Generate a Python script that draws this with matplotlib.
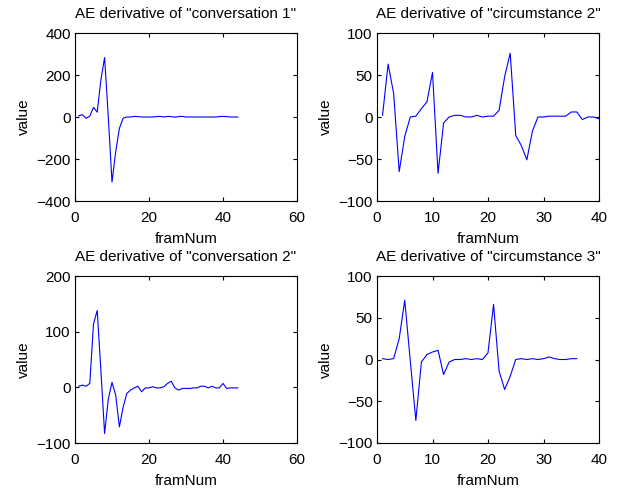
import numpy as np
import matplotlib
matplotlib.use("Agg")
import matplotlib.pyplot as plt

plt.rcParams['font.family'] = ['Liberation Sans', 'DejaVu Sans']
plt.rcParams['font.size'] = 11

# conversation 1 (frames 1..44)
conv1 = [6, 11, -6, 4, 46, 23, 177, 283, 0, -310, -165, -54, -6, 0,
         0, 3, 2, 0, 0, 0, 0, 2, 3, 0, 3, 2, -1, 2, 3, 0,
         0, 0, 0, 0, 0, 0, 0, 0, 2, 3, 2, 0, 0, 0]
# circumstance 2 (frames 1..40)
circ2 = [2, 63, 28, -65, -23, 0, 1, 10, 18, 53, -67, -7, 0, 2, 2,
         0, 0, 2, 0, 1, 1, 8, 48, 76, -22, -34, -51, -17, 0, 0,
         1, 1, 1, 1, 6, 6, -3, 0, 0, -2]
# conversation 2 (frames 1..44)
conv2 = [2, 4, 2, 7, 114, 138, 30, -83, -21, 9, -14, -71, -36, -11, -5,
         -1, 2, -8, -1, -1, 1, -1, -1, 1, 7, 11, -1, -5, -2, -2,
         -2, -1, -1, 2, 2, -1, 2, -1, -1, 7, -2, -1, -1, -1]
# circumstance 3 (frames 1..36)
circ3 = [1, 0, 1, 25, 71, -2, -73, -3, 6, 9, 11, -18, -3, 0, 0,
         1, 0, 1, 0, 8, 66, -14, -36, -20, 0, 1, 0, 1, 0, 1,
         3, 1, 0, 0, 1, 1]

panels = [
    ('AE derivative of "conversation 1"', conv1, (0, 60), (-400, 400), [0, 20, 40, 60], [-400, -200, 0, 200, 400]),
    ('AE derivative of "circumstance 2"', circ2, (0, 40), (-100, 100), [0, 10, 20, 30, 40], [-100, -50, 0, 50, 100]),
    ('AE derivative of "conversation 2"', conv2, (0, 60), (-100, 200), [0, 20, 40, 60], [-100, 0, 100, 200]),
    ('AE derivative of "circumstance 3"', circ3, (0, 40), (-100, 100), [0, 10, 20, 30, 40], [-100, -50, 0, 50, 100]),
]

# axes boxes in pixels: left, top, right, bottom
W, H = 619, 490
boxes = [(75, 33, 297, 201), (377, 33, 599, 201),
         (75, 276, 297, 443), (377, 276, 599, 443)]

fig = plt.figure(figsize=(W / 100, H / 100), dpi=100)
for (title, vals, xl, yl, xt, yt), (l, t, r, b) in zip(panels, boxes):
    ax = fig.add_axes([l / W, 1 - b / H, (r - l) / W, (b - t) / H])
    x = np.arange(1, len(vals) + 1)
    ax.plot(x, vals, color='#0000ff', linewidth=0.8)
    ax.set_xlim(*xl)
    ax.set_ylim(*yl)
    ax.set_xticks(xt)
    ax.set_yticks(yt)
    ax.set_title(title, fontsize=11, pad=11)
    ax.set_xlabel('framNum', labelpad=5)
    ax.set_ylabel('value', labelpad=4)
    ax.tick_params(direction='in', top=True, right=True, length=3, width=0.8)
    ax.tick_params(axis='x', pad=7)
    ax.tick_params(axis='y', pad=3)
    for s in ax.spines.values():
        s.set_linewidth(0.8)

fig.savefig('out.png', dpi=100)
